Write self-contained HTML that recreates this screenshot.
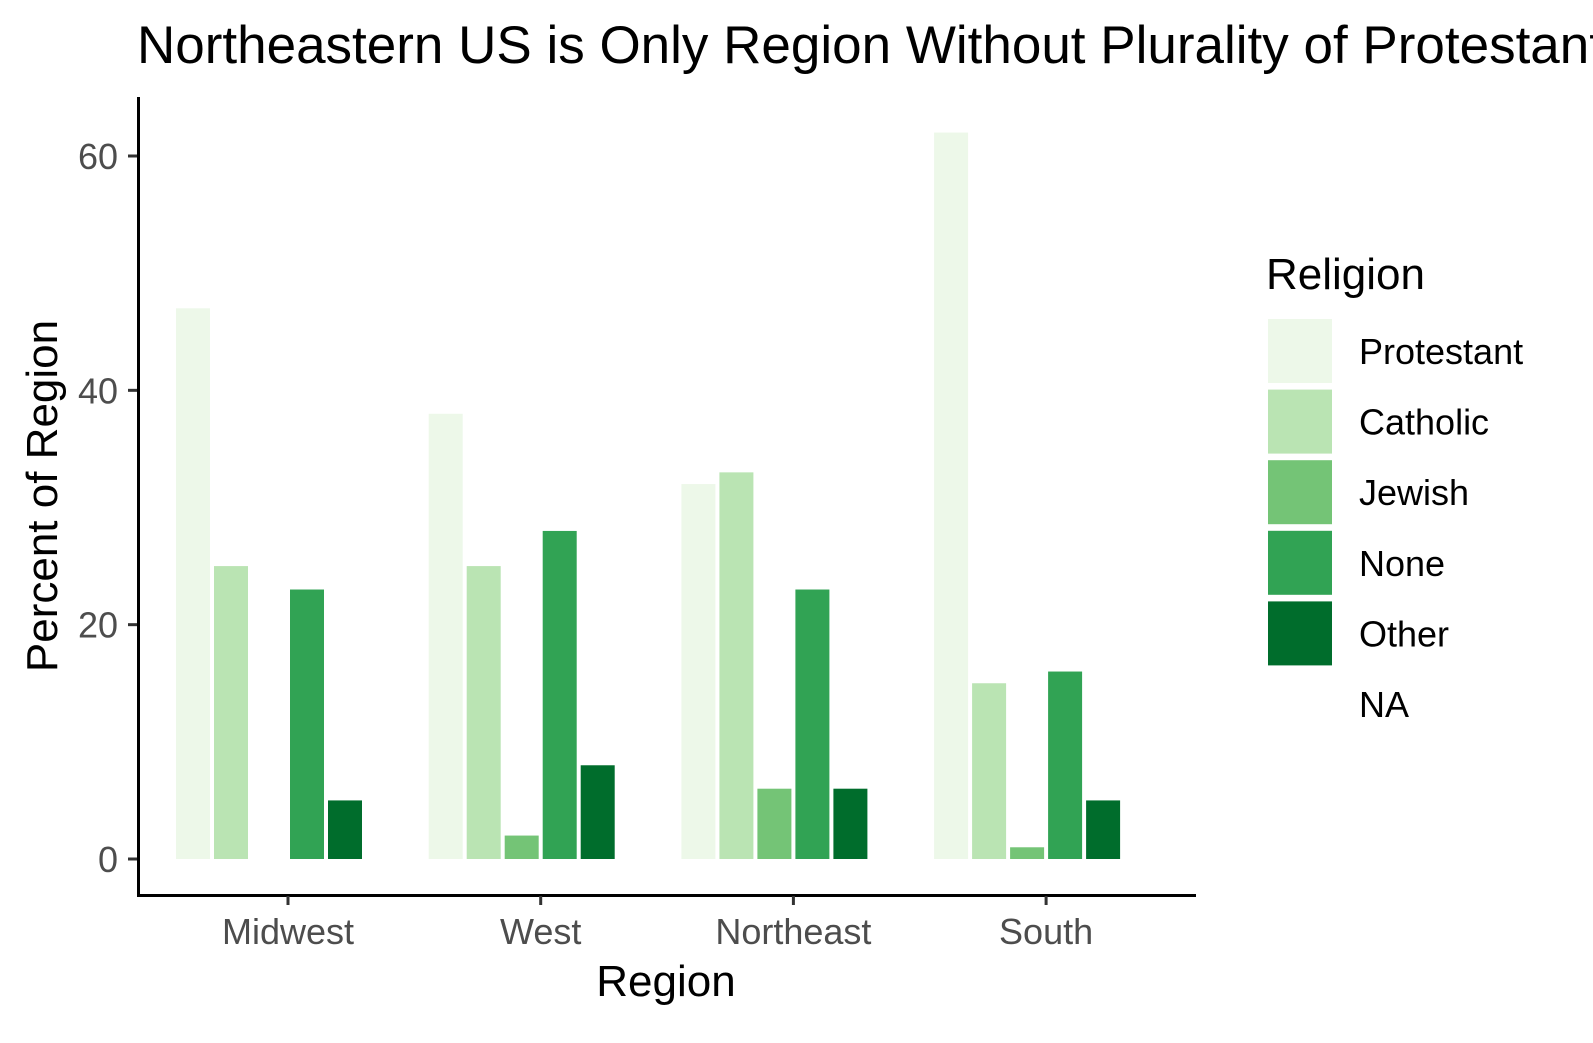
<!DOCTYPE html>
<html><head><meta charset="utf-8"><style>
html,body{margin:0;padding:0;background:#fff;}
svg{display:block;font-family:"Liberation Sans",Arial,sans-serif;}
</style></head><body>
<svg id="chart" width="1593" height="1043" viewBox="0 0 1593 1043">
<text x="137" y="63" font-size="53" fill="#000">Northeastern US is Only Region Without Plurality of Protestants</text>
<g id="plot"></g>
<line x1="138.5" y1="97" x2="138.5" y2="896" stroke="#000" stroke-width="3"/>
<line x1="137" y1="895.5" x2="1196" y2="895.5" stroke="#000" stroke-width="3"/>
<text transform="translate(57,496) rotate(-90)" text-anchor="middle" font-size="44" fill="#000">Percent of Region</text>
<text x="666" y="996" text-anchor="middle" font-size="44" fill="#000">Region</text>
<g id="legend">
<text x="1266" y="289" font-size="44" fill="#000">Religion</text>
</g>
</svg>
<script>
const regions = ["Midwest","West","Northeast","South"];
const religions = ["Protestant","Catholic","Jewish","None","Other","NA"];
const protestant = [47,38,32,62];
const catholic = [25,25,33,15];
const jewish = [0,2,6,1];
const none = [23,28,23,16];
const other = [5,8,6,5];
const yTicks = [0,20,40,60];
const colors = ["#edf8e9","#bae4b3","#74c476","#31a354","#006d2c","#ffffff"];
const series = [protestant,catholic,jewish,none,other];

const NS = "http://www.w3.org/2000/svg";
const plot = document.getElementById('plot');
const svg = document.getElementById('chart');
const y = v => 859 - v * (703/60);
const xc = i => 288 + i * 252.7;
const slot = 38, bw = 34;

yTicks.forEach(t => {
  const l = document.createElementNS(NS,'line');
  
  
  l.setAttribute('x1',128); l.setAttribute('x2',137);
  l.setAttribute('y1',y(t)); l.setAttribute('y2',y(t));
  l.setAttribute('stroke','#333'); l.setAttribute('stroke-width','3');
  svg.appendChild(l);
  const tx = document.createElementNS(NS,'text');
  
  
  tx.setAttribute('x',118); tx.setAttribute('y',y(t)+13);
  tx.setAttribute('text-anchor','end'); tx.setAttribute('font-size','36'); tx.setAttribute('fill','#4d4d4d');
  tx.textContent = t;
  svg.appendChild(tx);
});

regions.forEach((r,i) => {
  const l = document.createElementNS(NS,'line');
  
  
  l.setAttribute('x1',xc(i)); l.setAttribute('x2',xc(i));
  l.setAttribute('y1',896); l.setAttribute('y2',905);
  l.setAttribute('stroke','#333'); l.setAttribute('stroke-width','3');
  svg.appendChild(l);
  const tx = document.createElementNS(NS,'text');
  
  
  tx.setAttribute('x',xc(i)); tx.setAttribute('y',944);
  tx.setAttribute('text-anchor','middle'); tx.setAttribute('font-size','36'); tx.setAttribute('fill','#4d4d4d');
  tx.textContent = r;
  svg.appendChild(tx);
  series.forEach((s,k) => {
    const v = s[i];
    if (!v) return;
    const b = document.createElementNS(NS,'rect');
    
    
    const x0 = xc(i) - 3*slot + k*slot + (slot-bw)/2;
    b.setAttribute('x',x0); b.setAttribute('width',bw);
    b.setAttribute('y',y(v)); b.setAttribute('height',y(0)-y(v));
    b.setAttribute('fill',colors[k]);
    plot.appendChild(b);
  });
});

const lg = document.getElementById('legend');
religions.forEach((rel,k) => {
  const top = 319 + k*70.6;
  const b = document.createElementNS(NS,'rect');
  
  
  b.setAttribute('x',1268); b.setAttribute('y',top);
  b.setAttribute('width',64); b.setAttribute('height',64);
  b.setAttribute('fill',colors[k]);
  lg.appendChild(b);
  const tx = document.createElementNS(NS,'text');
  
  
  tx.setAttribute('x',1359); tx.setAttribute('y',top+45);
  tx.setAttribute('font-size','36'); tx.setAttribute('fill','#000');
  tx.textContent = rel;
  lg.appendChild(tx);
});
</script>
</body></html>
